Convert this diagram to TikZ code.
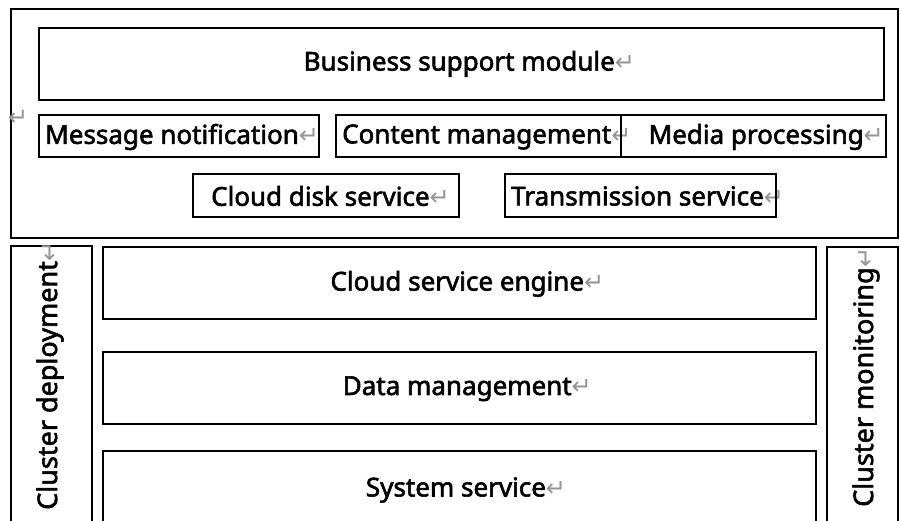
\documentclass[tikz,border=0pt]{standalone}
\usepackage{fontspec}
\setmainfont{Noto Sans}
\newfontfamily\lblfont{Noto Sans}[FakeBold=2.2]
\newfontfamily\markfont{DejaVu Sans}
\definecolor{markgray}{RGB}{150,150,150}
\newcommand{\retmark}{{\markfont\fontsize{24}{24}\selectfont\textcolor{markgray}{↵}}}
\tikzset{
  box/.style={draw, line width=1.6pt, rectangle, inner sep=0pt, anchor=north west},
  lbl/.style={font=\lblfont\fontsize{26}{29}\selectfont, inner sep=0pt},
  vlbl/.style={lbl, font=\lblfont\fontsize{27}{30}\selectfont, rotate=90, anchor=west},
}
\begin{document}
\begin{tikzpicture}[x=1pt,y=-1pt]
\useasboundingbox (0,0) rectangle (900,520);
\clip (0,0) rectangle (900,520);
\fill[white] (0,0) rectangle (900,520);

% upper block: business layer
\node[box, minimum width=887pt, minimum height=229pt] (upper) at (10,8) {};
\node[box, minimum width=845pt, minimum height=72pt] (bsm) at (38,27) {};
\node[lbl] at ([xshift=8pt]bsm.center) {Business support module\retmark};

\node[lbl, anchor=west] (stray) at (8,118) {\retmark};

% service row: labels first, frames drawn over them
\node[lbl, anchor=west] (msgtxt) at (45,137) {Message notification\retmark};
\node[lbl, anchor=west] (cmstxt) at (342,137) {Content management\retmark};
\node[lbl, anchor=east] (mediatxt) at (884,137) {Media processing\retmark};
\begin{scope}[every node/.style={box}]
  \node[minimum width=280pt, minimum height=42pt] (msg) at (38,114) {};
  \node[minimum width=285pt, minimum height=42pt] (cms) at (335,114) {};
  \node[minimum width=265pt, minimum height=42pt] (media) at (620,114) {};
\end{scope}

\node[box, minimum width=266pt, minimum height=43pt] (disk) at (192,173) {};
\node[lbl, anchor=west] at (211,196) {Cloud disk service\retmark};
\node[lbl, anchor=west] (transtxt) at (511,196) {Transmission service\retmark};
\node[box, minimum width=271pt, minimum height=43pt] (trans) at (504,173) {};

% lower block: platform layer
\node[box, minimum width=81pt, minimum height=300pt] (deploy) at (10,245) {};
\node[vlbl] at (50,510) {Cluster deployment\retmark};

\node[box, minimum width=713pt, minimum height=72pt] (engine) at (102,246) {};
\node[lbl] at ([xshift=8pt,yshift=-1pt]engine.center) {Cloud service engine\retmark};
\node[box, minimum width=713pt, minimum height=72pt] (data) at (102,351) {};
\node[lbl] at ([xshift=8pt,yshift=-1pt]data.center) {Data management\retmark};
\node[box, minimum width=713pt, minimum height=100pt] (sys) at (102,450) {};
\node[lbl] (systxt) at (466,490) {System service\retmark};

\node[box, minimum width=71pt, minimum height=300pt] (monitor) at (826,246) {};
\node[vlbl] at (866,507) {Cluster monitoring\retmark};
\end{tikzpicture}
\end{document}
